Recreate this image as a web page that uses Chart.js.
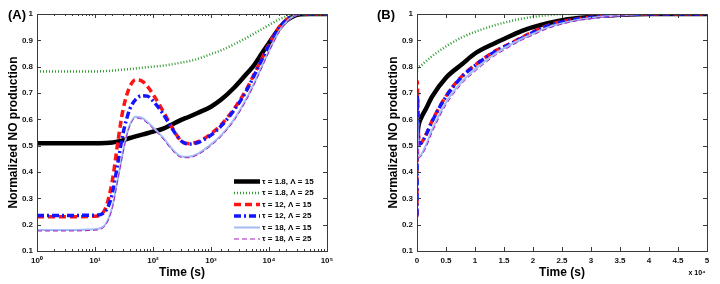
<!DOCTYPE html>
<html>
<head>
<meta charset="utf-8">
<script src="https://cdn.jsdelivr.net/npm/chart.js@4"></script>
<style>
    body { margin: 0; background: #fff; }
    #wrap { position: relative; width: 720px; height: 284px; }
    .panel { position: absolute; top: 0; width: 360px; height: 284px; }
</style>
</head>
<body>
<div id="wrap">
    <div class="panel" style="left:0"><canvas id="chartA"></canvas></div>
    <div class="panel" style="left:360px"><canvas id="chartB"></canvas></div>
</div>
<script>
'use strict';

// подписи кривых
const labels = ['τ = 1.8, Λ = 15', 'τ = 1.8, Λ = 25', 'τ = 12, Λ = 15', 'τ = 12, Λ = 25', 'τ = 18, Λ = 15', 'τ = 18, Λ = 25'];

// панель (A): время в логарифмическом масштабе
const timeA = [1, 3, 10, 15, 20, 25, 30, 35, 40, 50, 65, 80, 100, 150, 200, 300, 400, 600, 1000, 1500, 2500, 4000, 5500, 7500, 10000, 15000, 20000, 27000, 35000, 50000, 100000];
const blackA = [0.509, 0.509, 0.509, 0.51, 0.512, 0.516, 0.52, 0.525, 0.529, 0.535, 0.542, 0.547, 0.553, 0.565, 0.578, 0.597, 0.608, 0.625, 0.648, 0.675, 0.72, 0.77, 0.805, 0.85, 0.89, 0.945, 0.975, 0.993, 0.999, 1, 1];
const greenA = [0.782, 0.782, 0.782, 0.783, 0.785, 0.787, 0.789, 0.79, 0.791, 0.793, 0.796, 0.798, 0.8, 0.804, 0.808, 0.815, 0.82, 0.83, 0.848, 0.862, 0.885, 0.908, 0.925, 0.942, 0.958, 0.98, 0.99, 0.997, 1, 1, 1];
const redA = [0.23, 0.23, 0.232, 0.26, 0.37, 0.52, 0.63, 0.69, 0.725, 0.75, 0.745, 0.725, 0.695, 0.63, 0.58, 0.52, 0.508, 0.515, 0.545, 0.58, 0.64, 0.71, 0.77, 0.83, 0.885, 0.95, 0.978, 0.995, 1, 1, 1];
const blueA = [0.235, 0.235, 0.236, 0.25, 0.32, 0.44, 0.54, 0.6, 0.64, 0.675, 0.69, 0.688, 0.67, 0.62, 0.575, 0.52, 0.506, 0.512, 0.54, 0.575, 0.635, 0.705, 0.765, 0.825, 0.88, 0.948, 0.977, 0.995, 1, 1, 1];
const lightA = [0.18, 0.18, 0.183, 0.2, 0.27, 0.38, 0.47, 0.54, 0.58, 0.61, 0.605, 0.59, 0.57, 0.53, 0.495, 0.46, 0.458, 0.47, 0.505, 0.54, 0.6, 0.675, 0.735, 0.8, 0.86, 0.935, 0.97, 0.993, 1, 1, 1];
const purpleA = [0.176, 0.176, 0.179, 0.196, 0.265, 0.375, 0.465, 0.535, 0.575, 0.605, 0.6, 0.585, 0.565, 0.525, 0.49, 0.456, 0.454, 0.466, 0.5, 0.535, 0.595, 0.67, 0.73, 0.795, 0.856, 0.932, 0.968, 0.992, 1, 1, 1];

// панель (B): линейная шкала времени
const timeB = [0, 20, 40, 60, 150, 350, 700, 1500, 2600, 5000, 7800, 10000, 13500, 15000, 18000, 20000, 22700, 26000, 30000, 35000, 40000, 50000];
const blackB = [0.51, 0.512, 0.53, 0.54, 0.56, 0.585, 0.605, 0.638, 0.686, 0.758, 0.81, 0.85, 0.89, 0.905, 0.935, 0.95, 0.966, 0.98, 0.99, 0.997, 1, 1];
const greenB = [0.78, 0.785, 0.79, 0.792, 0.796, 0.8, 0.804, 0.82, 0.84, 0.877, 0.912, 0.932, 0.958, 0.967, 0.982, 0.989, 0.996, 1, 1, 1, 1, 1];
const redB = [0.23, 0.37, 0.725, 0.745, 0.63, 0.508, 0.51, 0.54, 0.594, 0.688, 0.765, 0.806, 0.86, 0.876, 0.91, 0.932, 0.958, 0.975, 0.988, 0.996, 1, 1];
const blueB = [0.235, 0.32, 0.64, 0.69, 0.62, 0.506, 0.51, 0.538, 0.592, 0.686, 0.763, 0.804, 0.858, 0.874, 0.908, 0.93, 0.956, 0.974, 0.987, 0.996, 1, 1];
const lightB = [0.18, 0.27, 0.58, 0.61, 0.53, 0.458, 0.465, 0.5, 0.56, 0.665, 0.745, 0.79, 0.85, 0.87, 0.905, 0.925, 0.95, 0.97, 0.985, 0.995, 1, 1];
const purpleB = [0.175, 0.265, 0.575, 0.605, 0.525, 0.454, 0.46, 0.49, 0.55, 0.655, 0.737, 0.782, 0.843, 0.863, 0.9, 0.92, 0.946, 0.967, 0.983, 0.994, 1, 1];

const yTicks = [0.1, 0.2, 0.3, 0.4, 0.5, 0.6, 0.7, 0.8, 0.9, 1];
const supDigits = ['⁰', '¹', '²', '³', '⁴', '⁵'];

// стили линий в порядке labels
const styles = [
    { color: '#000000', width: 4.5, dash: [] },
    { color: '#2f9a2f', width: 2.5, dash: [1, 2] },
    { color: '#ff1414', width: 3.5, dash: [7, 4] },
    { color: '#1414ff', width: 3.5, dash: [7, 3, 2, 3] },
    { color: '#a3bdf3', width: 2, dash: [] },
    { color: '#a61fc4', width: 1, dash: [5, 3] }
];

const fontName = '"Liberation Sans", Arial, sans-serif';

function makeDatasets(time, series) {
    return series.map((vals, i) => ({
        label: labels[i],
        data: vals.map((v, k) => ({ x: time[k], y: v })),
        borderColor: styles[i].color,
        borderWidth: styles[i].width,
        borderDash: styles[i].dash,
        borderCapStyle: 'butt',
        pointRadius: 0,
        fill: false,
        cubicInterpolationMode: 'monotone',
        order: 6 - i
    }));
}

// рамка и внутренние засечки как в MATLAB
const framePlugin = {
    id: 'frame',
    afterDraw(chart, args, opts) {
        const ctx = chart.ctx;
        const a = chart.chartArea;
        const xs = chart.scales.x;
        const ys = chart.scales.y;
        ctx.save();
        ctx.strokeStyle = '#3a3a3a';
        ctx.lineWidth = 1;
        ctx.strokeRect(Math.round(a.left) + 0.5, Math.round(a.top) + 0.5, Math.round(a.right - a.left), Math.round(a.bottom - a.top));
        ctx.beginPath();
        xs.ticks.forEach(t => {
            let len = 4;
            if (xs.type === 'logarithmic') {
                const e = Math.log10(t.value);
                len = Math.abs(e - Math.round(e)) < 1e-9 ? 4 : 2;
            }
            const px = Math.round(xs.getPixelForValue(t.value)) + 0.5;
            ctx.moveTo(px, a.bottom);
            ctx.lineTo(px, a.bottom - len);
            ctx.moveTo(px, a.top);
            ctx.lineTo(px, a.top + len);
        });
        ys.ticks.forEach(t => {
            const py = Math.round(ys.getPixelForValue(t.value)) + 0.5;
            ctx.moveTo(a.left, py);
            ctx.lineTo(a.left + 4, py);
            ctx.moveTo(a.right, py);
            ctx.lineTo(a.right - 4, py);
        });
        ctx.stroke();

        ctx.fillStyle = '#000';
        ctx.font = 'bold 13px ' + fontName;
        ctx.textBaseline = 'middle';
        ctx.textAlign = 'left';
        ctx.fillText(opts.panel, opts.panelX, 15);

        if (opts.factor) {
            ctx.font = 'bold 7px ' + fontName;
            ctx.textAlign = 'center';
            ctx.fillText(opts.factor, a.right - 10, 273);
        }
        ctx.restore();
    }
};

// легенда внутри области графика (A)
const legendPlugin = {
    id: 'innerLegend',
    afterDraw(chart, args, opts) {
        if (!opts.show) {
            return;
        }
        const ctx = chart.ctx;
        ctx.save();
        ctx.font = 'bold 8px ' + fontName;
        ctx.textBaseline = 'middle';
        ctx.textAlign = 'left';
        chart.data.datasets.forEach((ds, i) => {
            const y = opts.y + i * opts.step;
            ctx.strokeStyle = ds.borderColor;
            ctx.lineWidth = ds.borderWidth;
            ctx.setLineDash(ds.borderDash);
            ctx.beginPath();
            ctx.moveTo(opts.x, y);
            ctx.lineTo(opts.x + 26, y);
            ctx.stroke();
            ctx.setLineDash([]);
            ctx.fillStyle = '#000';
            ctx.fillText(ds.label, opts.x + 28, y);
        });
        ctx.restore();
    }
};

function drawPanel(canvasId, time, series, cfg) {
    const tickFont = { family: fontName, size: 8, weight: 'bold' };
    const titleFont = { family: fontName, size: 12, weight: 'bold' };
    let xScale = {
        type: cfg.log ? 'logarithmic' : 'linear',
        min: cfg.xMin,
        max: cfg.xMax,
        grid: { display: false, drawTicks: false },
        border: { display: false },
        ticks: {
            font: tickFont,
            color: '#111',
            padding: 5,
            autoSkip: false,
            maxRotation: 0,
            callback: cfg.xLabel
        },
        title: { display: true, text: 'Time (s)', font: titleFont, color: '#000', padding: { top: 0, bottom: 4 } },
        afterFit: (scale) => { scale.height = 33; }
    };
    if (!cfg.log) {
        xScale.ticks.stepSize = cfg.xStep;
    }
    return new Chart(document.getElementById(canvasId), {
        type: 'line',
        data: { datasets: makeDatasets(time, series) },
        options: {
            responsive: true,
            maintainAspectRatio: false,
            animation: false,
            devicePixelRatio: 1,
            layout: { padding: { top: 14, right: cfg.padRight, bottom: 0, left: cfg.padLeft } },
            scales: {
                x: xScale,
                y: {
                    min: 0.1,
                    max: 1,
                    grid: { display: false, drawTicks: false },
                    border: { display: false },
                    afterBuildTicks: (scale) => { scale.ticks = yTicks.map(v => ({ value: v })); },
                    ticks: {
                        font: tickFont,
                        color: '#111',
                        padding: 4,
                        callback: (v) => (v === 1 ? '1' : v.toFixed(1))
                    },
                    title: { display: true, text: 'Normalized NO production', font: titleFont, color: '#000', padding: { top: 6, bottom: 0 } },
                    afterFit: (scale) => { scale.width = 37; }
                }
            },
            plugins: {
                legend: { display: false },
                tooltip: { enabled: false },
                frame: { panel: cfg.panel, panelX: cfg.panelX, factor: cfg.factor },
                innerLegend: cfg.legend
            }
        },
        plugins: [framePlugin, legendPlugin]
    });
}

drawPanel('chartA', timeA, [blackA, greenA, redA, blueA, lightA, purpleA], {
    log: true,
    xMin: 1,
    xMax: 100000,
    xLabel: (v) => {
        const e = Math.log10(v);
        if (Math.abs(e - Math.round(e)) < 1e-9) {
            return '10' + supDigits[Math.round(e)];
        }
        return '';
    },
    padLeft: 0,
    padRight: 33,
    panel: '(A)',
    panelX: 8,
    legend: { show: true, x: 234, y: 181.5, step: 11.5 }
});

drawPanel('chartB', timeB, [blackB, greenB, redB, blueB, lightB, purpleB], {
    log: false,
    xMin: 0,
    xMax: 50000,
    xStep: 5000,
    xLabel: (v) => String(Math.round(v / 1000) / 10),
    padLeft: 20,
    padRight: 13,
    panel: '(B)',
    panelX: 17,
    factor: 'x 10⁴',
    legend: { show: false }
});
</script>
</body>
</html>
